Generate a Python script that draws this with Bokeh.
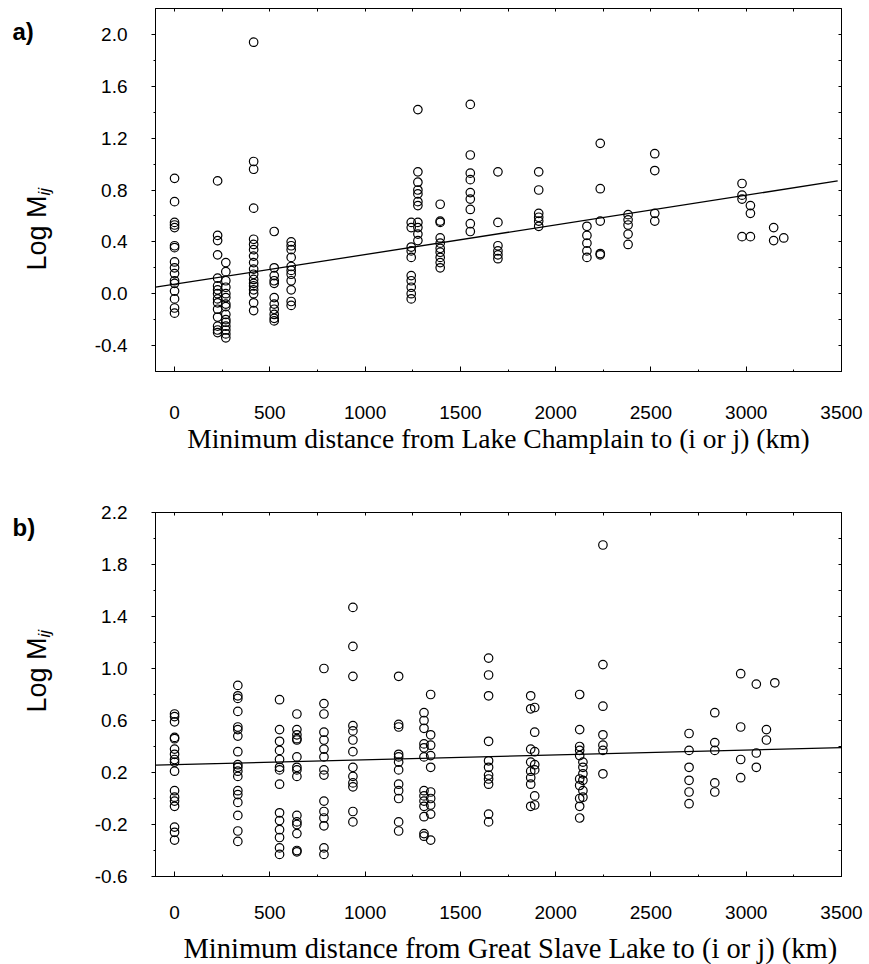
import math
from bokeh.plotting import figure
from bokeh.models import LinearAxis, FixedTicker, Range1d, ColumnDataSource
from bokeh.layouts import column, row
from bokeh.core.properties import value
from bokeh.embed import file_html
from bokeh.resources import INLINE

# ---------------- data ----------------
# Panel a: distance from Lake Champlain (km) -> Log Mij values at that distance
a_dist = [0, 226, 269, 415, 523, 612, 1242, 1277, 1394, 1552, 1697, 1911,
          2164, 2234, 2380, 2520, 2978, 3022, 3144, 3197]
a_logm = [
    [0.89, 0.71, 0.55, 0.53, 0.51, 0.37, 0.355, 0.245, 0.20, 0.155, 0.10, 0.08, 0.02, -0.04, -0.11, -0.15],
    [0.87, 0.45, 0.41, 0.30, 0.12, 0.06, 0.03, 0.0, -0.04, -0.07, -0.12, -0.18, -0.25, -0.28, -0.30],
    [0.24, 0.17, 0.10, 0.05, 0.0, -0.03, -0.08, -0.10, -0.16, -0.20, -0.22, -0.25, -0.28, -0.31, -0.34],
    [1.94, 1.02, 0.96, 0.66, 0.42, 0.38, 0.34, 0.29, 0.24, 0.19, 0.15, 0.11, 0.08, 0.06, 0.03, 0.0, -0.07, -0.13],
    [0.48, 0.20, 0.14, 0.10, 0.08, -0.03, -0.08, -0.12, -0.16, -0.19, -0.21],
    [0.40, 0.37, 0.34, 0.28, 0.21, 0.18, 0.15, 0.10, 0.03, -0.06, -0.09],
    [0.55, 0.51, 0.36, 0.33, 0.28, 0.14, 0.10, 0.05, 0.0, -0.04],
    [1.42, 0.94, 0.86, 0.80, 0.77, 0.71, 0.68, 0.55, 0.51, 0.46, 0.41],
    [0.69, 0.56, 0.55, 0.43, 0.39, 0.35, 0.32, 0.28, 0.24, 0.20],
    [1.46, 1.07, 0.93, 0.88, 0.78, 0.73, 0.65, 0.54, 0.48],
    [0.94, 0.55, 0.37, 0.33, 0.30, 0.27],
    [0.94, 0.80, 0.62, 0.59, 0.56, 0.52],
    [0.52, 0.45, 0.39, 0.33, 0.28],
    [1.16, 0.81, 0.56, 0.31, 0.30],
    [0.61, 0.57, 0.53, 0.46, 0.38],
    [1.08, 0.95, 0.62, 0.56],
    [0.85, 0.76, 0.73, 0.44],
    [0.68, 0.62, 0.44],
    [0.51, 0.41],
    [0.43],
]
a_fit_x = [-100, 3480]
a_fit_y = [0.05, 0.87]

# Panel b: distance from Great Slave Lake (km) -> Log Mij values
b_dist = [0, 332, 551, 642, 784, 936, 1176, 1309, 1344, 1648, 1869, 1890,
          2126, 2143, 2248, 2700, 2835, 2971, 3053, 3106, 3150]
b_logm = [
    [0.65, 0.63, 0.59, 0.47, 0.46, 0.38, 0.34, 0.30, 0.28, 0.21, 0.06, 0.01, -0.02, -0.06, -0.22, -0.26, -0.32],
    [0.87, 0.79, 0.77, 0.67, 0.55, 0.53, 0.48, 0.36, 0.26, 0.24, 0.21, 0.17, 0.06, 0.03, -0.03, -0.13, -0.25, -0.33],
    [0.76, 0.53, 0.44, 0.37, 0.30, 0.24, 0.22, 0.11, -0.11, -0.17, -0.24, -0.30, -0.38, -0.43],
    [0.65, 0.53, 0.49, 0.46, 0.45, 0.32, 0.24, 0.22, 0.17, -0.13, -0.18, -0.20, -0.27, -0.40, -0.41],
    [1.00, 0.73, 0.65, 0.51, 0.45, 0.38, 0.32, 0.22, 0.18, -0.02, -0.10, -0.15, -0.21, -0.38, -0.43],
    [1.47, 1.17, 0.94, 0.56, 0.52, 0.45, 0.36, 0.24, 0.17, 0.12, 0.09, -0.10, -0.18],
    [0.94, 0.57, 0.55, 0.34, 0.32, 0.28, 0.22, 0.11, 0.06, 0.00, -0.18, -0.25],
    [0.66, 0.60, 0.54, 0.42, 0.39, 0.32, 0.06, 0.02, -0.02, -0.06, -0.14, -0.27, -0.29],
    [0.80, 0.49, 0.41, 0.33, 0.24, 0.05, 0.00, -0.05, -0.12, -0.32],
    [1.08, 0.95, 0.79, 0.44, 0.29, 0.24, 0.18, 0.15, 0.11, -0.12, -0.18],
    [0.79, 0.69, 0.38, 0.28, 0.21, 0.16, 0.11, -0.06],
    [0.70, 0.51, 0.36, 0.26, 0.22, 0.02, -0.05],
    [0.80, 0.53, 0.40, 0.37, 0.33, 0.15, 0.10, 0.00, -0.06, -0.15],
    [0.28, 0.24, 0.19, 0.14, 0.06, 0.01],
    [1.95, 1.03, 0.71, 0.49, 0.41, 0.37, 0.19],
    [0.50, 0.37, 0.24, 0.14, 0.05, -0.04],
    [0.66, 0.43, 0.37, 0.12, 0.05],
    [0.96, 0.55, 0.30, 0.16],
    [0.88, 0.35, 0.24],
    [0.53, 0.45],
    [0.89],
]
b_fit_x = [-100, 3500]
b_fit_y = [0.256, 0.392]

x_ticks = [0, 500, 1000, 1500, 2000, 2500, 3000, 3500]
x_tick_labels = ["0", "500", "1000", "1500", "2000", "2500", "3000", "3500"]
a_y_ticks = [-0.4, 0.0, 0.4, 0.8, 1.2, 1.6, 2.0]
a_y_tick_labels = ["-0.4", "0.0", "0.4", "0.8", "1.2", "1.6", "2.0"]
b_y_ticks = [-0.6, -0.2, 0.2, 0.6, 1.0, 1.4, 1.8, 2.2]
b_y_tick_labels = ["-0.6", "-0.2", "0.2", "0.6", "1.0", "1.4", "1.8", "2.2"]

a_title = "Minimum distance from Lake Champlain to (i or j) (km)"
b_title = "Minimum distance from  Great Slave Lake to (i or j) (km)"
panel_tags = ["a)", "b)"]
y_title_main = "Log M"
y_title_sub = "ij"

# ---------------- layout constants (pixels) ----------------
PAGE_W, PAGE_H = 869, 964
STRIP_W = 80
ML, MR = 75, 23            # same borders for every child of the column (frames get aligned)
FRAME_L = STRIP_W + ML     # page x of the plot frames' left edge
X0, X1 = -100, 3500
Y0, Y1 = -0.6, 2.2
FW = 686
SANS = "Liberation Sans"
SERIF = "Liberation Serif"


def expand(dist, vals):
    xs, ys = [], []
    for d, vv in zip(dist, vals):
        for v in vv:
            xs.append(d)
            ys.append(v)
    return xs, ys


def blank(width, height, xr, ml=0, mr=0):
    f = figure(width=width, height=height, x_range=xr,
               y_range=Range1d(0, height), min_border=0,
               min_border_left=ml, min_border_right=mr, min_border_top=0,
               min_border_bottom=0, x_axis_location=None, y_axis_location=None,
               output_backend="svg", toolbar_location=None)
    for g in f.grid:
        g.visible = False
    f.outline_line_color = None
    f.background_fill_color = "white"
    f.border_fill_color = "white"
    return f


def make_panel(dist, vals, fit_x, fit_y, yt, ytl, fh, mt, mb,
               xstand, title=None, title_stand=0):
    p = figure(width=ML + FW + MR, frame_width=FW, frame_height=fh,
               x_range=Range1d(X0, X1), y_range=Range1d(Y0, Y1),
               min_border_left=ML, min_border_right=MR,
               min_border_top=mt, min_border_bottom=mb,
               x_axis_location=None, y_axis_location=None,
               output_backend="svg", toolbar_location=None)
    for g in p.grid:
        g.visible = False
    p.outline_line_color = "black"
    p.outline_line_width = 1
    p.background_fill_color = "white"
    p.border_fill_color = "white"

    minor_x = [250, 750, 1250, 1750, 2250, 2750, 3250]
    bottom = LinearAxis(ticker=FixedTicker(ticks=x_ticks, minor_ticks=minor_x),
                        major_label_overrides={t: l for t, l in zip(x_ticks, x_tick_labels)},
                        major_tick_in=5, major_tick_out=0,
                        minor_tick_in=2, minor_tick_out=0,
                        major_label_standoff=xstand,
                        major_label_text_font=SANS,
                        major_label_text_font_size="19px",
                        major_label_text_color="black",
                        axis_line_color="black", major_tick_line_color="black",
                        minor_tick_line_color="black")
    if title is not None:
        bottom.axis_label = title
        bottom.axis_label_standoff = title_stand
        bottom.axis_label_text_font = SERIF
        bottom.axis_label_text_font_size = "27.5px"
        bottom.axis_label_text_font_style = "normal"
        bottom.axis_label_text_color = "black"
    p.add_layout(bottom, "below")

    top_ticks = [0, 250, 500, 750, 1000, 1250, 1500, 1750, 2000, 2250, 2500, 2750, 3000, 3250]
    top = LinearAxis(ticker=FixedTicker(ticks=[], minor_ticks=top_ticks),
                     minor_tick_in=3, minor_tick_out=0, major_tick_in=0, major_tick_out=0,
                     major_label_standoff=0, axis_line_color="black",
                     minor_tick_line_color="black")
    p.add_layout(top, "above")

    minor_y = [round(t + 0.2, 1) for t in yt] + [round(yt[0] - 0.2, 1)]
    minor_y = [m for m in minor_y if Y0 < m < Y1]
    left = LinearAxis(ticker=FixedTicker(ticks=yt, minor_ticks=minor_y),
                      major_label_overrides={t: l for t, l in zip(yt, ytl)},
                      major_tick_in=0, major_tick_out=4,
                      minor_tick_in=0, minor_tick_out=2,
                      major_label_standoff=24,
                      major_label_text_font=SANS,
                      major_label_text_font_size="19px",
                      major_label_text_color="black",
                      axis_line_color="black", major_tick_line_color="black",
                      minor_tick_line_color="black")
    p.add_layout(left, "left")
    right_ticks = sorted(set([round(v, 1) for v in yt + minor_y]))
    right = LinearAxis(ticker=FixedTicker(ticks=[], minor_ticks=right_ticks),
                       minor_tick_in=3, minor_tick_out=0, major_tick_in=0, major_tick_out=0,
                       major_label_standoff=0, axis_line_color="black",
                       minor_tick_line_color="black")
    p.add_layout(right, "right")

    xs, ys = expand(dist, vals)
    src = ColumnDataSource(dict(x=xs, y=ys))
    p.scatter("x", "y", source=src, marker="circle", size=8.5,
              fill_color=None, line_color="black", line_width=1.2)
    p.line(fit_x, fit_y, line_color="black", line_width=1.3)
    return p


# vertical layout (page pixels, page has no margin)
A_TOP, A_FH, A_BOT = 8, 363, 100
A_H = A_TOP + A_FH + A_BOT
B_FRAME_TOP, B_FH, B_BOT = 512, 364, 56
B_TOP = B_FRAME_TOP - A_H
B_H = B_TOP + B_FH + B_BOT
T_H = PAGE_H - A_H - B_H

pa = make_panel(a_dist, a_logm, a_fit_x, a_fit_y, a_y_ticks, a_y_tick_labels,
                A_FH, A_TOP, A_BOT, 34, title=a_title, title_stand=1)
pb = make_panel(b_dist, b_logm, b_fit_x, b_fit_y, b_y_ticks, b_y_tick_labels,
                B_FH, B_TOP, B_BOT, 29)
MAIN_W = ML + FW + MR

# bottom strip holding panel b's axis title; its frame lines up with the panels' frames,
# so its x range is expressed in page pixels over that frame
bt = blank(MAIN_W, T_H, Range1d(FRAME_L, FRAME_L + FW), ML, MR)
bt.text(x=[FRAME_L + 28], y=[PAGE_H - 948], text=[b_title],
        text_font=value(SERIF), text_font_size=value("28.5px"),
        text_align="left", text_baseline="middle", text_color="black")

# left strip holding panel tags and rotated y-axis titles
ls = blank(STRIP_W, PAGE_H, Range1d(0, STRIP_W))
ls.text(x=[12, 12], y=[PAGE_H - 31, PAGE_H - 527], text=panel_tags,
        text_font=value(SANS), text_font_size=value("24px"), text_font_style="bold",
        text_align="left", text_baseline="middle", text_color="black")
ls.text(x=[36, 36], y=[PAGE_H - 195, PAGE_H - 637], text=[y_title_main, y_title_main],
        angle=math.pi / 2, text_font=value(SANS), text_font_size=value("27px"),
        text_align="right", text_baseline="middle", text_color="black")
ls.text(x=[44, 44], y=[PAGE_H - 195, PAGE_H - 637], text=[y_title_sub, y_title_sub],
        angle=math.pi / 2, text_font=value(SANS), text_font_size=value("17px"),
        text_font_style="italic",
        text_align="left", text_baseline="middle", text_color="black")

layout = row(ls, column(pa, pb, bt, spacing=0), spacing=0)
open("out.html", "w").write(file_html(layout, INLINE))
